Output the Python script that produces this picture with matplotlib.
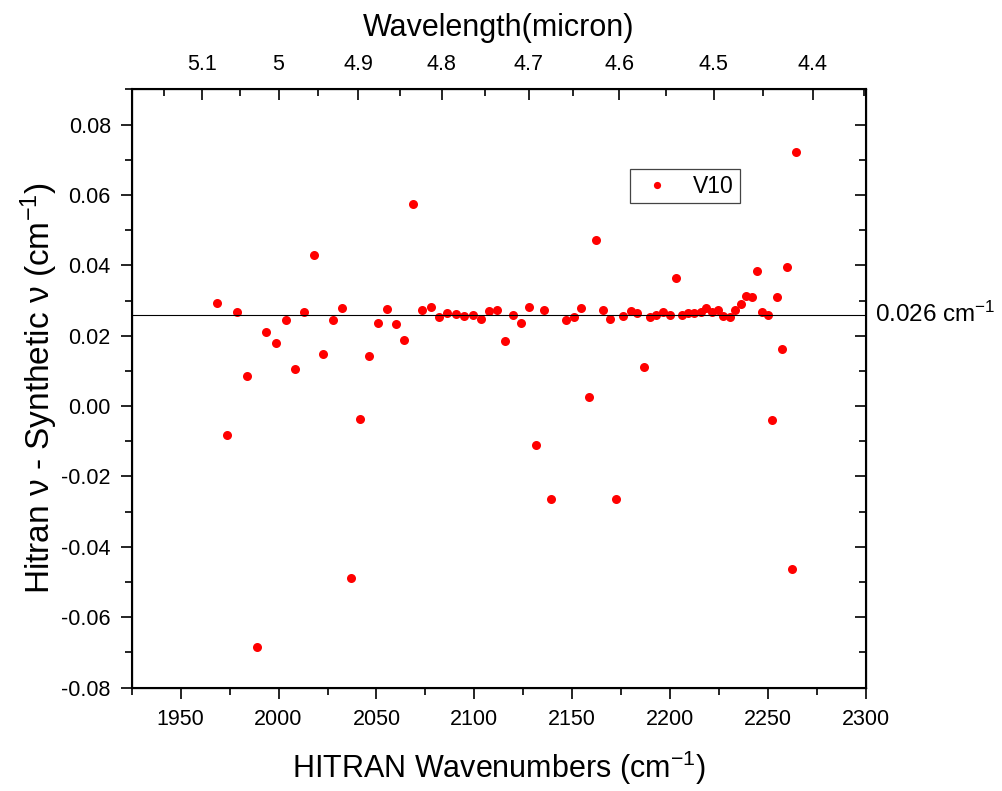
import matplotlib
matplotlib.use("Agg")
import matplotlib.pyplot as plt
import matplotlib.transforms as mtransforms
import numpy as np

plt.rcParams["font.family"] = ["Liberation Sans", "DejaVu Sans"]
plt.rcParams["mathtext.default"] = "regular"

# wavenumber (cm-1) and difference (cm-1)
wavenumber = [1968.7, 1973.8, 1978.9, 1983.8, 1988.9, 1993.7, 1998.6, 2003.6, 2008.5, 2013.1,
              2018.0, 2022.8, 2027.6, 2032.3, 2036.9, 2041.7, 2046.3, 2050.7, 2055.5, 2059.9,
              2064.3, 2068.7, 2073.3, 2077.6, 2082.0, 2086.2, 2090.7, 2094.9, 2099.1, 2103.4,
              2107.3, 2111.5, 2115.7, 2119.7, 2123.6, 2127.7, 2131.5, 2135.4, 2139.3, 2146.9,
              2150.9, 2154.6, 2158.3, 2161.9, 2165.6, 2169.3, 2172.4, 2176.0, 2179.8, 2183.3,
              2186.4, 2189.8, 2193.0, 2196.4, 2199.8, 2203.1, 2205.9, 2209.2, 2212.4, 2215.5,
              2218.5, 2221.6, 2224.5, 2227.2, 2230.6, 2233.3, 2236.2, 2238.8, 2242.0, 2244.1,
              2247.0, 2249.8, 2252.0, 2254.7, 2257.1, 2259.7, 2262.1, 2264.4]
diff = [0.0293, -0.0081, 0.0267, 0.0086, -0.0685, 0.0210, 0.0178, 0.0245, 0.0106, 0.0268,
        0.0428, 0.0149, 0.0245, 0.0279, -0.0489, -0.0036, 0.0142, 0.0237, 0.0277, 0.0234,
        0.0188, 0.0575, 0.0272, 0.0281, 0.0254, 0.0264, 0.0261, 0.0257, 0.0260, 0.0247,
        0.0271, 0.0273, 0.0186, 0.0259, 0.0236, 0.0281, -0.0110, 0.0272, -0.0263, 0.0244,
        0.0252, 0.0279, 0.0027, 0.0473, 0.0272, 0.0247, -0.0263, 0.0257, 0.0270, 0.0264,
        0.0110, 0.0253, 0.0259, 0.0267, 0.0259, 0.0364, 0.0259, 0.0264, 0.0264, 0.0268,
        0.0278, 0.0266, 0.0272, 0.0255, 0.0253, 0.0273, 0.0289, 0.0314, 0.0309, 0.0383,
        0.0267, 0.0259, -0.0039, 0.0311, 0.0162, 0.0394, -0.0462, 0.0723]
mean_diff = 0.026

wl_major = [5.1, 5.0, 4.9, 4.8, 4.7, 4.6, 4.5, 4.4]
wl_minor = [5.15, 5.05, 4.95, 4.85, 4.75, 4.65, 4.55, 4.45, 4.35]

fig = plt.figure(figsize=(10.03, 7.91), dpi=100)
ax = fig.add_axes([0.1313, 0.1306, 0.7321, 0.7565])

ax.plot(wavenumber, diff, "o", color="#ff0000", markersize=6.5, markeredgewidth=0, label="V10")
ax.axhline(mean_diff, color="black", linewidth=0.8)

ax.set_xlim(1925, 2300)
ax.set_ylim(-0.08, 0.09)
ax.set_xticks(np.arange(1950, 2301, 50))
ax.set_xticks(np.arange(1925, 2301, 25), minor=True)
ax.set_yticks(np.arange(-0.08, 0.081, 0.02))
ax.set_yticks(np.arange(-0.08, 0.091, 0.01), minor=True)
ax.yaxis.set_major_formatter(matplotlib.ticker.FormatStrFormatter("%.2f"))

ax.tick_params(which="both", direction="out", width=1.2, labelsize=15.5, pad=7,
               right=False, top=False)
ax.tick_params(which="major", length=8)
ax.tick_params(which="minor", length=5)
for sp in ax.spines.values():
    sp.set_linewidth(1.5)

# right-side ticks pointing inward
ax2 = ax.twinx()
ax2.set_ylim(ax.get_ylim())
ax2.set_yticks(ax.get_yticks())
ax2.set_yticks(np.arange(-0.08, 0.091, 0.01), minor=True)
ax2.tick_params(which="both", direction="in", width=1.2, labelright=False)
ax2.tick_params(which="major", length=8)
ax2.tick_params(which="minor", length=5)

# top wavelength axis
top = ax.twiny()
top.set_xlim(ax.get_xlim())
top.set_xticks([1e4 / w for w in wl_major])
top.set_xticklabels(["%g" % w for w in wl_major])
top.set_xticks([1e4 / w for w in wl_minor], minor=True)
top.tick_params(which="both", direction="in", width=1.2, labelsize=15.5, pad=10)
top.tick_params(which="major", length=8)
top.tick_params(which="minor", length=5)
top.set_xlabel("Wavelength(micron)", fontsize=22, labelpad=13)

ax.set_xlabel("HITRAN Wavenumbers (cm$^{-1}$)", fontsize=22, labelpad=14)
ax.set_ylabel("Hitran ν - Synthetic ν (cm$^{-1}$)", fontsize=24, labelpad=1)

trans = mtransforms.blended_transform_factory(ax.transAxes, ax.transData)
ax.text(1.012, mean_diff, "0.026 cm$^{-1}$", transform=trans, fontsize=17.5,
        va="center", ha="left")

leg = ax.legend(loc="upper left", bbox_to_anchor=(0.679, 0.867), fontsize=16.5,
                fancybox=False, edgecolor="#444444", framealpha=1, markerscale=0.8,
                handletextpad=0.7, borderpad=0.25, handlelength=1.8, borderaxespad=0)
leg.get_frame().set_linewidth(0.9)

fig.savefig("out.png", dpi=100)
